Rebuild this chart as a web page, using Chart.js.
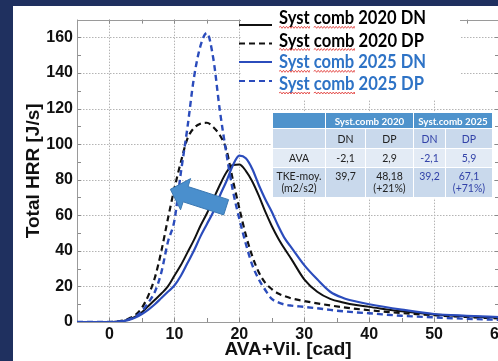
<!DOCTYPE html>
<html><head><meta charset="utf-8">
<script src="https://cdn.jsdelivr.net/npm/chart.js@4.4.0/dist/chart.umd.min.js"></script>
<style>
html,body{margin:0;padding:0;width:498px;height:361px;overflow:hidden;background:#1f305f;}
#panel{position:absolute;left:13px;top:6px;width:500px;height:355px;background:#fff;}
#c{position:absolute;left:0;top:0;}
#tbl{position:absolute;left:259px;top:106px;border-collapse:collapse;table-layout:fixed;font-family:Lato,"Open Sans",sans-serif;font-size:10.5px;color:#222;}
#tbl td{border:1px solid #fff;padding:0;text-align:center;vertical-align:middle;line-height:12px;white-space:nowrap;}
#tbl tr.h td{background:#4f93cc;color:#fff;font-weight:bold;height:15px;font-size:9.8px;}
#tbl tr.r1 td{background:#c9d9ec;}
#tbl tr.r2 td{background:#e3ebf5;}
#tbl tr.sub td{height:19px;}
#tbl tr.ava td{height:18px;}
#tbl tr.tke td{height:27px;vertical-align:top;padding-top:2px;}
#tbl td.b{color:#3242a8;}
</style></head>
<body>
<div id="panel"><canvas id="c" width="500" height="355"></canvas>
<table id="tbl"><colgroup><col style="width:53px"><col style="width:40px"><col style="width:48px"><col style="width:32px"><col style="width:47px"></colgroup><tbody id="tb"></tbody></table>
</div>
<script>
// ---- data ----
const xValues    = [-5, 0, 1, 2, 3, 4, 5, 6, 7, 8, 9, 10, 11, 12, 13, 14, 15, 16, 17, 18, 19, 20, 21, 22, 23, 24, 25, 26, 27, 28, 30, 32, 34, 36, 38, 40, 45, 50, 55, 60];
const comb2020DN = [0, 0, 0.1, 0.5, 1.5, 3, 5.5, 9, 12.5, 16, 20, 26, 32, 39, 46, 54, 61, 69, 77, 84, 88.3, 88.5, 85, 79, 71, 62, 54, 47, 41, 35.5, 24, 17, 13, 11, 9.5, 8.5, 6, 4.2, 3.2, 2.5];
const comb2020DP = [0, 0, 0.2, 0.8, 2, 4, 8, 15, 25, 40, 58, 75, 90, 103, 109, 111.5, 112, 109.5, 105, 97, 80, 64, 49, 37, 28, 22, 18.5, 16, 14.5, 13.3, 11.8, 10.5, 9.3, 8.3, 7.4, 6.6, 5, 3.8, 2.8, 2];
const comb2025DN = [0, 0, 0.1, 0.4, 1.2, 2.5, 4.5, 7, 10, 13.5, 17, 20.5, 26, 33, 40, 48, 55, 62, 71, 79, 88, 93.5, 92, 86, 77, 69, 62, 54, 47, 42, 32, 24, 17, 13.5, 11.5, 10, 7, 4.5, 3.5, 2.8];
const comb2025DP = [0, 0, 0.1, 0.5, 1.5, 3, 6, 11, 17, 28, 45, 57, 84, 109, 137, 155, 162.5, 148, 119, 95, 74, 58, 44, 32, 24, 18, 13, 11, 9.8, 9.2, 8.5, 7.7, 6.8, 6, 5.4, 4.9, 3.5, 2.6, 1.8, 1.2];
const seriesLabels = ['Syst comb 2020 DN', 'Syst comb 2020 DP', 'Syst comb 2025 DN', 'Syst comb 2025 DP'];
const xTickLabels = [0, 10, 20, 30, 40, 50, 60];
const yTickLabels = [0, 20, 40, 60, 80, 100, 120, 140, 160];
// table
const tableGroups = ['Syst.comb 2020', 'Syst.comb 2025'];
const tableCols   = ['DN', 'DP', 'DN', 'DP'];
const avaValues   = ['-2,1', '2,9', '-2,1', '5,9'];
const tkeValues   = ['39,7', '48,18', '39,2', '67,1'];
const tkeChanges  = ['', '(+21%)', '', '(+71%)'];
const tableRowLabels = ['AVA', 'TKE-moy.', '(m2/s2)'];
// arrow annotation (data coords): tail -> tip
const arrowTail = {x: 17.97, y: 64.5};
const arrowTip  = {x: 9.38, y: 74.6};

// ---- table ----
(function(){
  const tb = document.getElementById('tb');
  const blue = i => i >= 2 ? ' class="b"' : '';
  let h = '<tr class="h"><td></td>' + tableGroups.map(g => '<td colspan="2">' + g + '</td>').join('') + '</tr>';
  h += '<tr class="r1 sub"><td></td>' + tableCols.map((c,i) => '<td' + blue(i) + '>' + c + '</td>').join('') + '</tr>';
  h += '<tr class="r2 ava"><td>' + tableRowLabels[0] + '</td>' + avaValues.map((v,i) => '<td' + blue(i) + '>' + v + '</td>').join('') + '</tr>';
  h += '<tr class="r1 tke"><td>' + tableRowLabels[1] + '<br>' + tableRowLabels[2] + '</td>' + tkeValues.map((v,i) => '<td' + blue(i) + '>' + v + (tkeChanges[i] ? '<br>' + tkeChanges[i] : '') + '</td>').join('') + '</tr>';
  tb.innerHTML = h;
})();

// ---- chart ----
const BLACK = '#111111', BLUE = '#2b4cbc';
const styles = [
  {color: BLACK, dash: [], width: 2},
  {color: BLACK, dash: [6, 4], width: 2.2},
  {color: BLUE, dash: [], width: 2.2},
  {color: BLUE, dash: [6, 4], width: 2.4}
];
const series = [comb2020DN, comb2020DP, comb2025DN, comb2025DP];
const orders = [2, 3, 0, 1];
const datasets = series.map((s, i) => ({
  label: seriesLabels[i],
  data: xValues.map((x, j) => ({x: x, y: s[j]})),
  borderColor: styles[i].color,
  borderDash: styles[i].dash,
  borderWidth: styles[i].width,
  pointRadius: 0,
  fill: false,
  cubicInterpolationMode: 'monotone',
  order: orders[i]
}));

const framePlugin = {
  id: 'frame',
  beforeDatasetsDraw(chart) {
    const {ctx, chartArea: {left, right, top, bottom}, scales: {x, y}} = chart;
    ctx.save();
    ctx.lineWidth = 1;
    ctx.strokeStyle = '#b4b4b4';
    ctx.setLineDash([1.5, 1.5]);
    xTickLabels.forEach(v => {
      const p = Math.round(x.getPixelForValue(v)) + 0.5;
      ctx.beginPath(); ctx.moveTo(p, top); ctx.lineTo(p, bottom); ctx.stroke();
    });
    yTickLabels.forEach(v => {
      const p = Math.round(y.getPixelForValue(v)) + 0.5;
      ctx.beginPath(); ctx.moveTo(left, p); ctx.lineTo(right, p); ctx.stroke();
    });
    ctx.setLineDash([]);
    ctx.strokeStyle = '#8a8a8a';
    x.ticks.forEach(t => {
      const p = Math.round(x.getPixelForValue(t.value)) + 0.5;
      ctx.beginPath(); ctx.moveTo(p, bottom); ctx.lineTo(p, bottom - 4);
      ctx.moveTo(p, top); ctx.lineTo(p, top + 4); ctx.stroke();
    });
    y.ticks.forEach(t => {
      const p = Math.round(y.getPixelForValue(t.value)) + 0.5;
      ctx.beginPath(); ctx.moveTo(left, p); ctx.lineTo(left + 4, p);
      ctx.moveTo(right, p); ctx.lineTo(right - 4, p); ctx.stroke();
    });
    ctx.strokeStyle = '#9a9a9a';
    ctx.strokeRect(Math.round(left) + 0.5, Math.round(top) + 0.5, Math.round(right - left) - 1, Math.round(bottom - top));
    ctx.restore();
  }
};

function wavy(ctx, x0, x1, yb) {
  ctx.beginPath();
  let up = true;
  ctx.moveTo(x0, yb);
  for (let xx = x0; xx < x1; xx += 1.5) {
    ctx.lineTo(Math.min(xx + 1.5, x1), yb + (up ? -1 : 1));
    up = !up;
  }
  ctx.stroke();
}

const overlayPlugin = {
  id: 'overlay',
  afterDatasetsDraw(chart) {
    const ctx = chart.ctx;
    const {x, y} = chart.scales;
    ctx.save();
    // arrow
    const tx = x.getPixelForValue(arrowTip.x), ty = y.getPixelForValue(arrowTip.y);
    const sx = x.getPixelForValue(arrowTail.x), sy = y.getPixelForValue(arrowTail.y);
    const L = Math.hypot(tx - sx, ty - sy);
    const ux = (tx - sx) / L, uy = (ty - sy) / L, nx = -uy, ny = ux;
    const sw = 8, hw = 16.4, hl = 16;
    const bx = tx - ux * hl, by = ty - uy * hl;
    ctx.beginPath();
    ctx.moveTo(sx + nx * sw, sy + ny * sw);
    ctx.lineTo(bx + nx * sw, by + ny * sw);
    ctx.lineTo(bx + nx * hw, by + ny * hw);
    ctx.lineTo(tx, ty);
    ctx.lineTo(bx - nx * hw, by - ny * hw);
    ctx.lineTo(bx - nx * sw, by - ny * sw);
    ctx.lineTo(sx - nx * sw, sy - ny * sw);
    ctx.closePath();
    ctx.fillStyle = '#4a8fcd';
    ctx.fill();
    ctx.strokeStyle = '#3b78b2';
    ctx.lineWidth = 1;
    ctx.stroke();

    // legend (panel coords = page - (13,6))
    const ox = -13, oy = -6;
    ctx.fillStyle = '#fff';
    ctx.fillRect(241 + ox, 15 + oy, 219, 85);
    const lineY = [25, 43.5, 62, 81];
    const baseY = [24.3, 46.5, 68.3, 90];
    const textEnd = [426, 424, 426, 424];
    const textCol = ['#000', '#000', '#2e73c6', '#2e73c6'];
    ctx.font = 'bold 18.5px Lato, "Open Sans", sans-serif';
    ctx.textBaseline = 'alphabetic';
    chart.data.datasets.forEach((ds, i) => {
      ctx.strokeStyle = ds.borderColor;
      ctx.lineWidth = 2;
      ctx.setLineDash(ds.borderDash.length ? [6, 4] : []);
      ctx.beginPath();
      ctx.moveTo(239 + ox, lineY[i] + oy); ctx.lineTo(272 + ox, lineY[i] + oy); ctx.stroke();
      ctx.setLineDash([]);
      const tx0 = 279 + ox, maxW = textEnd[i] - 279;
      const full = ctx.measureText(ds.label).width;
      const k = Math.min(1, maxW / full);
      ctx.fillStyle = textCol[i];
      ctx.fillText(ds.label, tx0, baseY[i] + oy, maxW);
      // spell-check underline under first two words
      const words = ds.label.split(' ');
      ctx.strokeStyle = '#e0302c';
      ctx.lineWidth = 0.8;
      const w1 = ctx.measureText(words[0]).width * k;
      const w2s = ctx.measureText(words[0] + ' ').width * k;
      const w2e = ctx.measureText(words[0] + ' ' + words[1]).width * k;
      wavy(ctx, tx0, tx0 + w1, baseY[i] + oy + 3);
      wavy(ctx, tx0 + w2s, tx0 + w2e, baseY[i] + oy + 3);
    });
    ctx.restore();
  }
};

const tickFont = {family: '"Liberation Sans", Arial, sans-serif', size: 16, weight: 'bold'};
const titleFont = {family: '"Liberation Sans", Arial, sans-serif', size: 19, weight: 'bold'};

new Chart(document.getElementById('c'), {
  type: 'line',
  data: {datasets: datasets},
  options: {
    responsive: false,
    animation: false,
    devicePixelRatio: 1,
    layout: {padding: {top: 8, right: 14, left: 0, bottom: 0}},
    plugins: {legend: {display: false}, tooltip: {enabled: false}},
    scales: {
      x: {
        type: 'linear', min: -5, max: 60,
        ticks: {stepSize: 5, autoSkip: false, maxRotation: 0, padding: 3, color: '#111', font: tickFont,
          callback: v => xTickLabels.includes(v) ? String(v) : ''},
        grid: {display: false, drawTicks: false},
        border: {display: false},
        title: {display: true, text: 'AVA+Vil. [cad]', color: '#111', font: titleFont, padding: 0},
        afterFit: s => { s.height = 39; }
      },
      y: {
        type: 'linear', min: 0, max: 170,
        ticks: {stepSize: 10, autoSkip: false, padding: 4, color: '#111', font: tickFont,
          callback: v => yTickLabels.includes(v) ? String(v) : ''},
        grid: {display: false, drawTicks: false},
        border: {display: false},
        title: {display: true, text: 'Total HRR [J/s]', color: '#111', font: titleFont, padding: {top: 9, bottom: 0}},
        afterFit: s => { s.width = 64; }
      }
    }
  },
  plugins: [framePlugin, overlayPlugin]
});
</script>
</body></html>
